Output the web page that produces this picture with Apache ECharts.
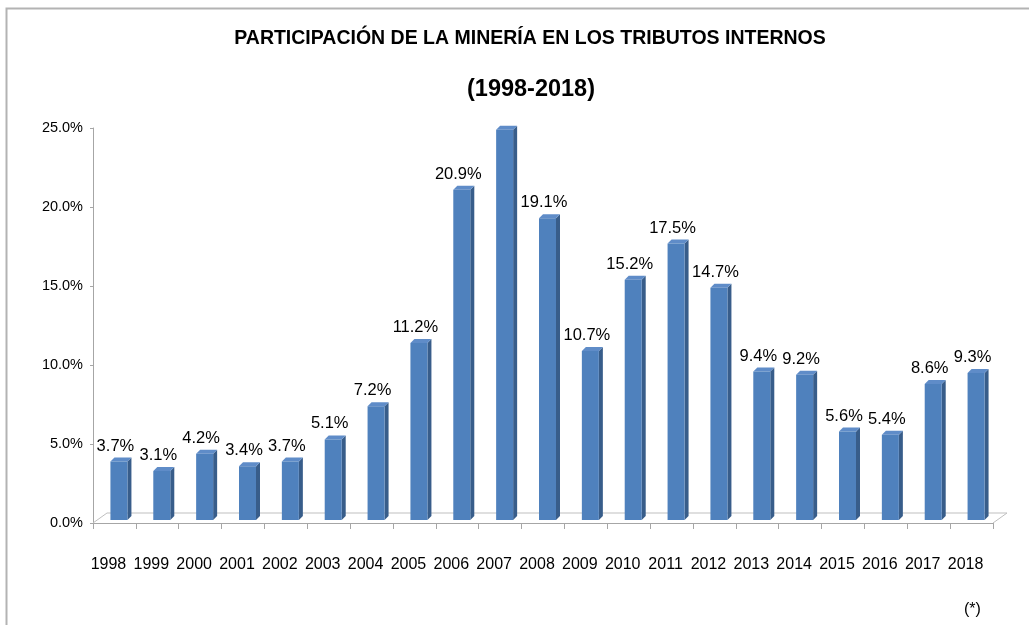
<!DOCTYPE html>
<html>
<head>
<meta charset="utf-8">
<script src="https://cdn.jsdelivr.net/npm/echarts@6/dist/echarts.min.js"></script>
<style>
  html, body { margin: 0; padding: 0; background: #fff; }
  #chart { width: 1029px; height: 625px; }
</style>
</head>
<body>
<div id="chart"></div>
<script>
var years = ['1998', '1999', '2000', '2001', '2002', '2003', '2004', '2005', '2006', '2007', '2008',
             '2009', '2010', '2011', '2012', '2013', '2014', '2015', '2016', '2017', '2018'];
var shares = [3.7, 3.1, 4.2, 3.4, 3.7, 5.1, 7.2, 11.2, 20.9, 24.7, 19.1,
              10.7, 15.2, 17.5, 14.7, 9.4, 9.2, 5.6, 5.4, 8.6, 9.3];
var unlabeled = ['2007'];
var yTicks = [0, 5, 10, 15, 20, 25];

var chart = echarts.init(document.getElementById('chart'));

// fake 3D column: front face, side face, top face
function renderBar(params, api) {
  var i = api.value(0);
  var v = api.value(1);
  var top = api.coord([i, v]);
  var base = api.coord([i, 0]);
  var lift = 3, fw = 17, d = 4, dh = 4;
  var x0 = top[0] - 4;
  var ty = top[1] - lift;
  var by = base[1] - lift;
  var children = [
    {
      type: 'polygon',
      shape: { points: [[x0 + fw, ty], [x0 + fw + d, ty - dh], [x0 + fw + d, by - dh], [x0 + fw, by]] },
      style: { fill: '#385D8A' }
    },
    {
      type: 'polygon',
      shape: { points: [[x0, ty], [x0 + d, ty - dh], [x0 + fw + d, ty - dh], [x0 + fw, ty]] },
      style: { fill: '#5F8CC8' }
    },
    {
      type: 'rect',
      shape: { x: x0, y: ty, width: fw, height: by - ty },
      style: { fill: '#4F81BD' }
    }
  ];
  if (unlabeled.indexOf(years[i]) < 0) {
    children.push({
      type: 'text',
      x: top[0] + 1,
      y: ty - 7,
      style: {
        text: v.toFixed(1) + '%',
        fill: '#000',
        font: '16.5px "Liberation Sans", Arial, sans-serif',
        align: 'center',
        verticalAlign: 'bottom'
      }
    });
  }
  return { type: 'group', children: children };
}

var option = {
  animation: false,
  title: [
    {
      text: 'PARTICIPACIÓN DE LA MINERÍA EN LOS TRIBUTOS INTERNOS',
      left: 525,
      textAlign: 'center',
      top: 24,
      textStyle: { fontFamily: '"Liberation Sans", Arial', fontWeight: 'bold', fontSize: 19.5, color: '#000' }
    },
    {
      text: '(1998-2018)',
      left: 526,
      textAlign: 'center',
      top: 73,
      textStyle: { fontFamily: '"Liberation Sans", Arial', fontWeight: 'bold', fontSize: 23.5, color: '#000' }
    },
    {
      text: '(*)',
      left: 959,
      top: 597,
      textStyle: { fontFamily: '"Liberation Sans", Arial', fontWeight: 'normal', fontSize: 16, color: '#000' }
    }
  ],
  grid: { left: 93, right: 36, top: 128, bottom: 102 },
  xAxis: {
    type: 'category',
    data: years,
    axisLine: { lineStyle: { color: '#A6A6A6', width: 1 } },
    axisTick: { show: true, length: 6, lineStyle: { color: '#A6A6A6' } },
    axisLabel: {
      interval: 0,
      hideOverlap: false,
      color: '#000',
      fontFamily: '"Liberation Sans", Arial',
      fontSize: 16,
      margin: 34,
      padding: [0, 12, 0, 0]
    }
  },
  yAxis: {
    type: 'value',
    min: yTicks[0],
    max: yTicks[yTicks.length - 1],
    interval: yTicks[1] - yTicks[0],
    axisLine: { show: true, lineStyle: { color: '#A6A6A6', width: 1 } },
    axisTick: { show: true, length: 3, lineStyle: { color: '#A6A6A6' } },
    splitLine: { show: false },
    axisLabel: {
      color: '#000',
      fontFamily: '"Liberation Sans", Arial',
      fontSize: 14.5,
      margin: 10,
      formatter: function (v) { return v.toFixed(1) + '%'; }
    }
  },
  series: [
    {
      type: 'custom',
      renderItem: renderBar,
      data: shares.map(function (v, i) { return [i, v]; }),
      z: 3
    }
  ]
};

chart.setOption(option);

// frame border and the 3D floor, placed from the axis scale
var p0 = chart.convertToPixel({ gridIndex: 0 }, [0, 0]);
var gridRect = chart.getModel().getComponent('grid', 0).coordinateSystem.getRect();
var fx0 = gridRect.x, fx1 = gridRect.x + gridRect.width, fy = p0[1];
var ddx = 14, ddy = 10;
chart.setOption({
  graphic: [
    { type: 'polyline', shape: { points: [[6.5, 625], [6.5, 8.5], [1029, 8.5]] }, style: { stroke: '#B3B3B3', lineWidth: 2, fill: null } },
    { type: 'polyline', z: 1, shape: { points: [[fx0, fy], [fx0 + ddx, fy - ddy], [fx1 + ddx, fy - ddy], [fx1, fy]] }, style: { stroke: '#BFBFBF', lineWidth: 1, fill: null } }
  ]
});
</script>
</body>
</html>
